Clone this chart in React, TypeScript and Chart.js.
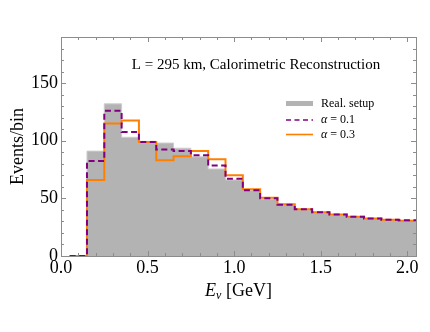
import React, { useEffect, useRef } from "react";
import { Chart, registerables } from "chart.js";

Chart.register(...registerables);

// Bin lower edges (GeV), bin width 0.1, last edge 2.05
const binEdges = [0.05, 0.15, 0.25, 0.35, 0.45, 0.55, 0.65, 0.75, 0.85, 0.95, 1.05, 1.15, 1.25, 1.35, 1.45, 1.55, 1.65, 1.75, 1.85, 1.95];
const lastEdge = 2.05;
const realSetup = [0, 91, 132, 103, 99.5, 98, 93.5, 86, 75.5, 66, 57, 49.5, 44.5, 40, 37.5, 35.5, 34, 32.5, 31.5, 31];
const alpha01 = [0, 82.5, 126, 107.5, 99, 92.5, 91, 87.5, 78.5, 67, 57, 50, 44.5, 40.5, 38, 36, 34, 32.5, 31.5, 31];
const alpha03 = [0, 66, 115, 117.5, 99, 83, 86.5, 91, 84, 70, 58, 50.5, 45, 40.5, 38, 36, 34, 32.5, 31.5, 30.5];
const xTickLabels = ["0.0", "0.5", "1.0", "1.5", "2.0"];
const yTickLabels = ["0", "50", "100", "150"];
const titleText = "L = 295 km, Calorimetric Reconstruction";
const legendLabels = ["Real. setup", "0.1", "0.3"];

const SERIF = '"Liberation Serif", "DejaVu Serif", serif';
const GRAY = "#b3b3b3";
const PURPLE = "#800080";
const ORANGE = "#ff8000";
const FRAME = "#8c8c8c";

function steps(values: number[]) {
  const pts = binEdges.map((x, i) => ({ x, y: values[i] }));
  pts.push({ x: lastEdge, y: values[values.length - 1] });
  return pts;
}

const decorPlugin = {
  id: "decor",
  afterDatasetsDraw(chart: any) {
    const { ctx, chartArea: a, scales } = chart;
    const xs = scales.x;
    const ys = scales.y;
    ctx.save();
    ctx.strokeStyle = FRAME;
    ctx.lineWidth = 1;
    ctx.beginPath();
    for (let i = 0; i <= 20; i++) {
      const v = i / 10;
      const px = Math.round(xs.getPixelForValue(v)) + 0.5;
      const len = i % 5 === 0 ? 5 : 3;
      ctx.moveTo(px, a.bottom);
      ctx.lineTo(px, a.bottom - len);
      ctx.moveTo(px, a.top);
      ctx.lineTo(px, a.top + len);
    }
    for (let v = 0; v <= 190; v += 10) {
      const py = Math.round(ys.getPixelForValue(v)) + 0.5;
      const len = v % 50 === 0 ? 5 : 3;
      ctx.moveTo(a.left, py);
      ctx.lineTo(a.left + len, py);
      ctx.moveTo(a.right, py);
      ctx.lineTo(a.right - len, py);
    }
    ctx.stroke();
    ctx.strokeRect(Math.round(a.left) + 0.5, Math.round(a.top) + 0.5, Math.round(a.right - a.left), Math.round(a.bottom - a.top));
    ctx.restore();
  },
  afterDraw(chart: any) {
    const { ctx, chartArea: a } = chart;
    ctx.save();
    ctx.fillStyle = "#000";
    ctx.font = `15px ${SERIF}`;
    ctx.textAlign = "center";
    ctx.textBaseline = "middle";
    ctx.fillText(titleText, 256, 65);

    const lx0 = 286, lx1 = 313, tx = 321;
    const rows = [103.5, 120, 134.5];
    ctx.fillStyle = GRAY;
    ctx.fillRect(lx0, rows[0] - 2.5, lx1 - lx0, 5);
    ctx.strokeStyle = PURPLE;
    ctx.lineWidth = 1.6;
    ctx.setLineDash([5, 3.5]);
    ctx.beginPath();
    ctx.moveTo(lx0, rows[1]);
    ctx.lineTo(lx1, rows[1]);
    ctx.stroke();
    ctx.setLineDash([]);
    ctx.strokeStyle = ORANGE;
    ctx.beginPath();
    ctx.moveTo(lx0, rows[2]);
    ctx.lineTo(lx1, rows[2]);
    ctx.stroke();

    ctx.fillStyle = "#000";
    ctx.textAlign = "left";
    ctx.textBaseline = "middle";
    ctx.font = `12px ${SERIF}`;
    ctx.fillText(legendLabels[0], tx, rows[0]);
    for (let k = 1; k <= 2; k++) {
      ctx.font = `italic 12px ${SERIF}`;
      ctx.fillText("\u03b1", tx, rows[k]);
      const w = ctx.measureText("\u03b1").width;
      ctx.font = `12px ${SERIF}`;
      ctx.fillText(" = " + legendLabels[k], tx + w, rows[k]);
    }

    ctx.save();
    ctx.translate(18.5, (a.top + a.bottom) / 2);
    ctx.rotate(-Math.PI / 2);
    ctx.font = `18px ${SERIF}`;
    ctx.textAlign = "center";
    ctx.textBaseline = "middle";
    ctx.fillText("Events/bin", 0, 0);
    ctx.restore();

    ctx.textAlign = "left";
    ctx.textBaseline = "alphabetic";
    ctx.font = `italic 18px ${SERIF}`;
    const wE = ctx.measureText("E").width;
    ctx.font = `italic 12px ${SERIF}`;
    const wNu = ctx.measureText("\u03bd").width;
    ctx.font = `18px ${SERIF}`;
    const wRest = ctx.measureText(" [GeV]").width;
    const total = wE + wNu + wRest;
    let x = (a.left + a.right) / 2 - total / 2;
    const base = 296;
    ctx.font = `italic 18px ${SERIF}`;
    ctx.fillText("E", x, base);
    x += wE;
    ctx.font = `italic 12px ${SERIF}`;
    ctx.fillText("\u03bd", x, base + 3);
    x += wNu;
    ctx.font = `18px ${SERIF}`;
    ctx.fillText(" [GeV]", x, base);
    ctx.restore();
  },
};

export default function App() {
  const ref = useRef<HTMLCanvasElement | null>(null);
  useEffect(() => {
    if (!ref.current) return;
    const chart = new Chart(ref.current, {
      type: "line",
      data: {
        datasets: [
          {
            label: "alpha=0.1",
            data: steps(alpha01),
            stepped: "before",
            borderColor: PURPLE,
            borderWidth: 2,
            borderDash: [6, 3.5],
            pointRadius: 0,
            fill: false,
            order: 1,
          },
          {
            label: "alpha=0.3",
            data: steps(alpha03),
            stepped: "before",
            borderColor: ORANGE,
            borderWidth: 2,
            pointRadius: 0,
            fill: false,
            order: 2,
          },
          {
            label: "Real. setup",
            data: steps(realSetup),
            stepped: "before",
            borderColor: "#cdcdcd",
            borderWidth: 1,
            backgroundColor: GRAY,
            pointRadius: 0,
            fill: "origin",
            order: 3,
          },
        ],
      },
      options: {
        responsive: false,
        animation: false,
        events: [],
        layout: { padding: { top: 37, right: 14, left: 0, bottom: 0 } },
        plugins: { legend: { display: false }, tooltip: { enabled: false } },
        scales: {
          x: {
            type: "linear",
            min: 0,
            max: lastEdge,
            grid: { display: false, drawTicks: false },
            border: { display: false },
            afterFit: (s: any) => {
              s.height = 76;
            },
            ticks: {
              stepSize: 0.5,
              includeBounds: false,
              maxRotation: 0,
              autoSkip: false,
              padding: 1,
              color: "#000",
              font: { family: SERIF, size: 18 },
              callback: (v: any) => {
                const i = Math.round(Number(v) / 0.5);
                return xTickLabels[i] ?? "";
              },
            },
          },
          y: {
            min: 0,
            max: 190,
            grid: { display: false, drawTicks: false },
            border: { display: false },
            afterFit: (s: any) => {
              s.width = 61;
            },
            ticks: {
              stepSize: 50,
              includeBounds: false,
              padding: 3,
              color: "#000",
              font: { family: SERIF, size: 18 },
              callback: (v: any) => {
                const i = Math.round(Number(v) / 50);
                return yTickLabels[i] ?? "";
              },
            },
          },
        },
      },
      plugins: [decorPlugin],
    } as any);
    return () => chart.destroy();
  }, []);
  return (
    <div style={{ position: "absolute", left: 0, top: 0, width: 430, height: 332, background: "#fff" }}>
      <canvas ref={ref} width={430} height={332} style={{ display: "block" }} />
    </div>
  );
}
